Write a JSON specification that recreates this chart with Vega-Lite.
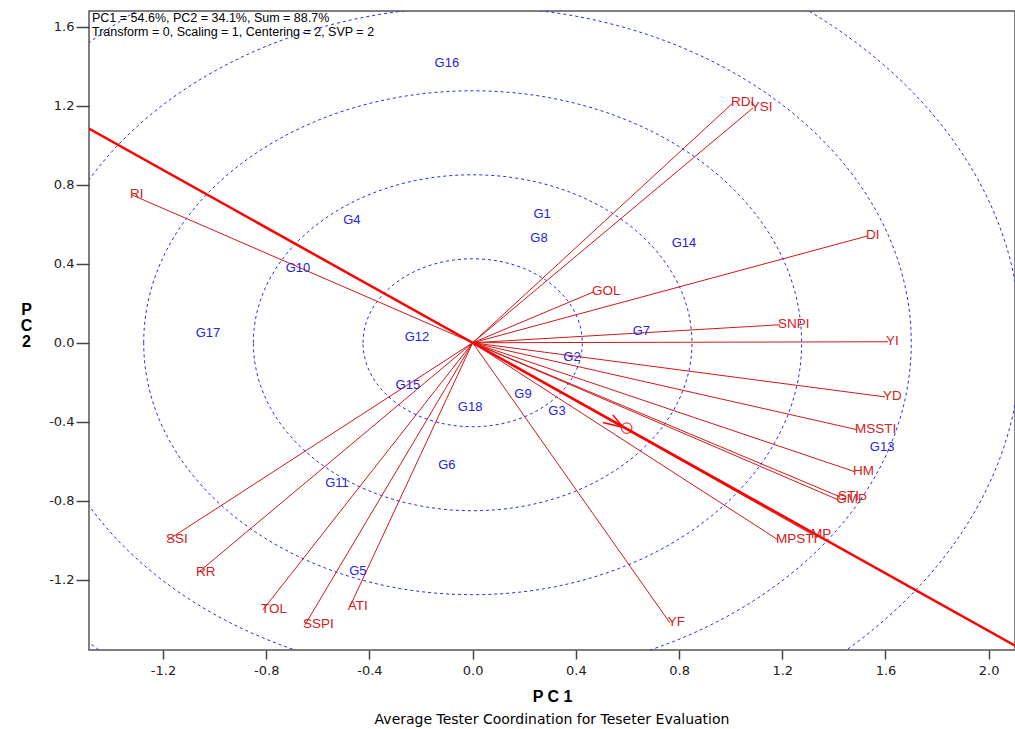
{
  "$schema": "https://vega.github.io/schema/vega-lite/v6.json",
  "width": 926,
  "height": 639,
  "autosize": {"type": "none"},
  "padding": {"left": 89, "top": 11, "right": 0, "bottom": 79},
  "background": "white",
  "config": {
    "view": {"stroke": "#555555", "strokeWidth": 1.5},
    "font": "Liberation Sans"
  },
  "title": {
    "text": "Average Tester Coordination for Teseter Evaluation",
    "orient": "bottom",
    "anchor": "middle",
    "font": "DejaVu Sans",
    "fontSize": 14,
    "fontWeight": "normal",
    "color": "#000000",
    "offset": 9
  },
  "datasets": {
    "testers": [
      {"name": "RDI", "x0": 0, "y0": 0, "x": 1.009, "y": 1.214},
      {"name": "YSI", "x0": 0, "y0": 0, "x": 1.086, "y": 1.188},
      {"name": "DI", "x0": 0, "y0": 0, "x": 1.532, "y": 0.541},
      {"name": "GOL", "x0": 0, "y0": 0, "x": 0.470, "y": 0.258},
      {"name": "SNPI", "x0": 0, "y0": 0, "x": 1.191, "y": 0.091},
      {"name": "YI", "x0": 0, "y0": 0, "x": 1.610, "y": 0.005},
      {"name": "YD", "x0": 0, "y0": 0, "x": 1.598, "y": -0.274},
      {"name": "MSSTI", "x0": 0, "y0": 0, "x": 1.490, "y": -0.440},
      {"name": "HM", "x0": 0, "y0": 0, "x": 1.482, "y": -0.653},
      {"name": "STI", "x0": 0, "y0": 0, "x": 1.424, "y": -0.780},
      {"name": "GMP", "x0": 0, "y0": 0, "x": 1.417, "y": -0.795},
      {"name": "MP", "x0": 0, "y0": 0, "x": 1.319, "y": -0.972},
      {"name": "MPSTI", "x0": 0, "y0": 0, "x": 1.183, "y": -0.997},
      {"name": "YF", "x0": 0, "y0": 0, "x": 0.764, "y": -1.417},
      {"name": "ATI", "x0": 0, "y0": 0, "x": -0.476, "y": -1.336},
      {"name": "SSPI", "x0": 0, "y0": 0, "x": -0.650, "y": -1.428},
      {"name": "TOL", "x0": 0, "y0": 0, "x": -0.813, "y": -1.352},
      {"name": "RR", "x0": 0, "y0": 0, "x": -1.065, "y": -1.164},
      {"name": "SSI", "x0": 0, "y0": 0, "x": -1.181, "y": -0.998},
      {"name": "RI", "x0": 0, "y0": 0, "x": -1.320, "y": 0.748}
    ],
    "genotypes": [
      {"name": "G16", "x": -0.100, "y": 1.417},
      {"name": "G1", "x": 0.269, "y": 0.652},
      {"name": "G8", "x": 0.257, "y": 0.531},
      {"name": "G14", "x": 0.819, "y": 0.506},
      {"name": "G4", "x": -0.468, "y": 0.622},
      {"name": "G10", "x": -0.677, "y": 0.379},
      {"name": "G17", "x": -1.026, "y": 0.050},
      {"name": "G12", "x": -0.216, "y": 0.030},
      {"name": "G15", "x": -0.251, "y": -0.212},
      {"name": "G18", "x": -0.010, "y": -0.324},
      {"name": "G7", "x": 0.654, "y": 0.060},
      {"name": "G2", "x": 0.385, "y": -0.071},
      {"name": "G9", "x": 0.195, "y": -0.258},
      {"name": "G3", "x": 0.327, "y": -0.344},
      {"name": "G13", "x": 1.587, "y": -0.527},
      {"name": "G6", "x": -0.100, "y": -0.618},
      {"name": "G11", "x": -0.526, "y": -0.709},
      {"name": "G5", "x": -0.445, "y": -1.154}
    ],
    "rings": [
      {"x": 0, "y": 0, "r": 0.425},
      {"x": 0, "y": 0, "r": 0.85},
      {"x": 0, "y": 0, "r": 1.275},
      {"x": 0, "y": 0, "r": 1.70},
      {"x": 0, "y": 0, "r": 2.125}
    ],
    "atc": [
      {"x": -1.6, "y": 1.166, "x2": 2.2, "y2": -1.604}
    ],
    "arrow": [
      {"x": 0.543, "y": -0.365, "x2": 0.584, "y2": -0.429},
      {"x": 0.505, "y": -0.404, "x2": 0.584, "y2": -0.429}
    ],
    "avg": [
      {"x": 0.597, "y": -0.432}
    ],
    "note": [
      {"x": -1.487, "y": 1.679, "t": "PC1 = 54.6%, PC2 = 34.1%, Sum = 88.7%|Transform = 0, Scaling = 1, Centering = 2, SVP = 2"}
    ]
  },
  "encoding": {
    "x": {
      "field": "x",
      "type": "quantitative",
      "scale": {"domain": [-1.487, 2.102], "nice": false, "zero": false},
      "axis": {
        "title": "P C 1",
        "values": [-1.2, -0.8, -0.4, 0.0, 0.4, 0.8, 1.2, 1.6, 2.0],
        "labelExpr": "replace(format(datum.value, '.1f'), '\u2212', '-')",
        "grid": false,
        "domain": false,
        "tickSize": 9,
        "tickColor": "#444444",
        "tickWidth": 1.5,
        "labelFont": "DejaVu Sans",
        "labelFontSize": 13,
        "labelColor": "#222222",
        "labelPadding": 5,
        "titleFont": "Liberation Sans",
        "titleFontSize": 16,
        "titleFontWeight": "bold",
        "titleColor": "#000000",
        "titlePadding": 11
      }
    },
    "y": {
      "field": "y",
      "type": "quantitative",
      "scale": {"domain": [-1.555, 1.679], "nice": false, "zero": false},
      "axis": {
        "title": ["P", "C", "2"],
        "values": [-1.2, -0.8, -0.4, 0.0, 0.4, 0.8, 1.2, 1.6],
        "labelExpr": "replace(format(datum.value, '.1f'), '\u2212', '-')",
        "grid": false,
        "domain": false,
        "tickSize": 13,
        "tickColor": "#444444",
        "tickWidth": 1.5,
        "labelFont": "DejaVu Sans",
        "labelFontSize": 13,
        "labelColor": "#222222",
        "labelPadding": 2,
        "titleFont": "Liberation Sans",
        "titleFontSize": 16,
        "titleFontWeight": "bold",
        "titleColor": "#000000",
        "titleAngle": 0,
        "titleAlign": "center",
        "titleBaseline": "top",
        "titleLineHeight": 16,
        "titleX": -63,
        "titleY": 290
      }
    }
  },
  "layer": [
    {
      "data": {"name": "rings"},
      "mark": {
        "type": "point",
        "shape": "M-1,0A1,0.7659,0,1,1,1,0A1,0.7659,0,1,1,-1,0Z",
        "filled": false,
        "stroke": "#2a2aee",
        "strokeWidth": 1,
        "strokeDash": [3, 3],
        "opacity": 1,
        "clip": true
      },
      "encoding": {
        "size": {
          "field": "r",
          "type": "quantitative",
          "scale": {"type": "pow", "exponent": 2, "domain": [0, 2.2], "range": [0, 1288679]},
          "legend": null
        }
      }
    },
    {
      "data": {"name": "testers"},
      "mark": {"type": "rule", "color": "#d01818", "strokeWidth": 1, "clip": true},
      "encoding": {
        "x2": {"field": "x0"},
        "y2": {"field": "y0"}
      }
    },
    {
      "data": {"name": "atc"},
      "mark": {"type": "rule", "color": "#ff0000", "strokeWidth": 2.5, "clip": true},
      "encoding": {
        "x2": {"field": "x2"},
        "y2": {"field": "y2"}
      }
    },
    {
      "data": {"name": "arrow"},
      "mark": {"type": "rule", "color": "#ff0000", "strokeWidth": 1.5, "clip": true},
      "encoding": {
        "x2": {"field": "x2"},
        "y2": {"field": "y2"}
      }
    },
    {
      "data": {"name": "avg"},
      "mark": {"type": "point", "shape": "circle", "filled": false, "stroke": "#ff0000", "strokeWidth": 1, "size": 110, "opacity": 1}
    },
    {
      "data": {"name": "testers"},
      "mark": {"type": "text", "align": "left", "baseline": "middle", "dx": -2, "dy": -1, "font": "Liberation Sans", "fontSize": 13.5, "color": "#d42020"},
      "encoding": {
        "text": {"field": "name", "type": "nominal"}
      }
    },
    {
      "data": {"name": "genotypes"},
      "mark": {"type": "text", "align": "center", "baseline": "middle", "font": "Liberation Sans", "fontSize": 13, "color": "#2323e6"},
      "encoding": {
        "text": {"field": "name", "type": "nominal"}
      }
    },
    {
      "data": {"name": "note"},
      "mark": {
        "type": "text",
        "align": "left",
        "baseline": "top",
        "dx": 3,
        "dy": 1,
        "font": "Liberation Sans",
        "fontSize": 12.5,
        "lineHeight": 14,
        "lineBreak": "|",
        "color": "#000000"
      },
      "encoding": {
        "text": {"field": "t", "type": "nominal"}
      }
    }
  ]
}
